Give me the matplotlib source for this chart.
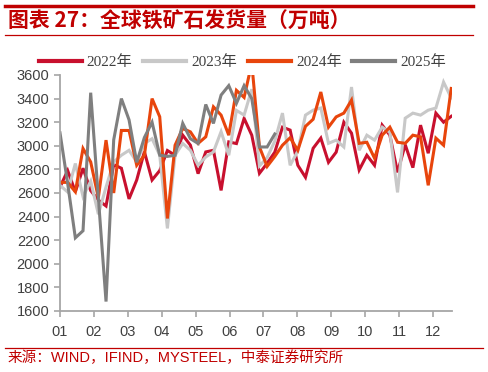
import matplotlib
matplotlib.use("Agg")
import matplotlib.pyplot as plt
from matplotlib.lines import Line2D

months = ["01", "02", "03", "04", "05", "06", "07", "08", "09", "10", "11", "12"]
series_names = ["2022年", "2023年", "2024年", "2025年"]

s2022 = [2650, 2790, 2610, 2810, 2620, 2540, 2490, 2840, 2810, 2550, 2710, 2950, 2710,
         2790, 2960, 2920, 3090, 3005, 2764, 2948, 2962, 2622, 3033, 3019, 3232, 3090,
         2767, 2852, 2946, 3158, 3133, 2835, 2733, 2979, 3065, 2860, 2946, 3200, 3107,
         2795, 2920, 2835, 3175, 3090, 2775, 3010, 2815, 3175, 2937, 3277, 3200, 3250]
s2023 = [2665, 2608, 2850, 2570, 2700, 2420, 2650, 2863, 2920, 2962, 2863, 3020, 3060,
         2920, 2300, 2920, 3020, 2962, 2835, 2905, 2948, 3120, 2920, 3300, 3260, 3480,
         2830, 2900, 3040, 3277, 2835, 2955, 3260, 3302, 3320, 3021, 3048, 2990, 3498,
         2962, 3090, 3048, 3158, 3115, 2605, 3234, 3277, 3260, 3302, 3320, 3540, 3405]
s2024 = [2690, 2690, 2610, 2977, 2863, 2560, 3048, 2600, 3130, 3130, 2835, 2920, 3400,
         3246, 2384, 3005, 3147, 3118, 3020, 3076, 3330, 3260, 3090, 3470, 3410, 3700,
         2990, 2825, 2910, 3005, 3068, 2962, 3165, 3225, 3456, 3158, 3245, 3277, 3387,
         3021, 3030, 2895, 3090, 3158, 3030, 3021, 3090, 3076, 2665, 3065, 3005, 3486]
s2025 = [3110, 2680, 2220, 2280, 3450, 2560, 1680, 3050, 3400, 3220, 2860, 3070, 3200,
         2920, 2910, 2920, 3190, 3060, 3020, 3350, 3190, 3430, 3510, 3360, 3510, 3400,
         2990, 2990, 3100]

colors = ["#C8102E", "#C8C8C8", "#E8450C", "#7F7F7F"]
all_series = [s2022, s2023, s2024, s2025]

plt.rcParams['font.family'] = ['Liberation Sans', 'Noto Sans CJK SC']

fig = plt.figure(figsize=(4.88, 3.72), dpi=100)
ax = fig.add_axes([60/488, 1-311/372, 392/488, 236/372])

for name, vals, c in zip(series_names, all_series, colors):
    ax.plot(range(len(vals)), vals, color=c, lw=2.2, label=name, solid_joinstyle='miter')

ax.set_xlim(0, 51.1)
ax.set_ylim(1600, 3600)
ax.set_yticks(range(1600, 3601, 200))
step = 4.42
ax.set_xticks([k * step for k in range(12)])
ax.set_xticklabels(months)
for s in ["top", "right"]:
    ax.spines[s].set_visible(False)
for s in ["left", "bottom"]:
    ax.spines[s].set_color("#A6A6A6")
    ax.spines[s].set_linewidth(1.3)
ax.tick_params(axis='both', colors="#A6A6A6", labelcolor="#404040", labelsize=10.5,
               length=4, width=1.2, direction='out')
ax.tick_params(axis='x', pad=6)

leg = fig.legend(loc='center', bbox_to_anchor=(0.497, 1-62/372), ncol=4, frameon=False,
                 handlelength=2.8, handletextpad=0.35, columnspacing=0.7,
                 prop={'family': ['Liberation Serif', 'Noto Sans CJK SC'], 'size': 11})
for t in leg.get_texts():
    t.set_color("#404040")
for h in leg.legend_handles:
    h.set_linewidth(3)

red = "#C00000"
fig.add_artist(Line2D([5/488, 473/488], [1-6/372, 1-6/372], color=red, lw=2.5))
fig.add_artist(Line2D([5/488, 473/488], [1-35/372, 1-35/372], color=red, lw=0.9))
fig.add_artist(Line2D([5/488, 483/488], [1-348/372, 1-348/372], color=red, lw=0.9))
fig.text(8/488, 1-21/372, "图表 27：全球铁矿石发货量（万吨）", color=red, fontsize=15,
         fontweight='bold', fontstyle='italic', va='center', ha='left',
         family=['Noto Sans CJK SC', 'DejaVu Sans'])
fig.text(8/488, 1-358/372, "来源：WIND，IFIND，MYSTEEL，中泰证券研究所", color=red, fontsize=10.5,
         va='center', ha='left', family=['Liberation Sans', 'Noto Sans CJK SC'])

fig.savefig("out.png", dpi=100)
